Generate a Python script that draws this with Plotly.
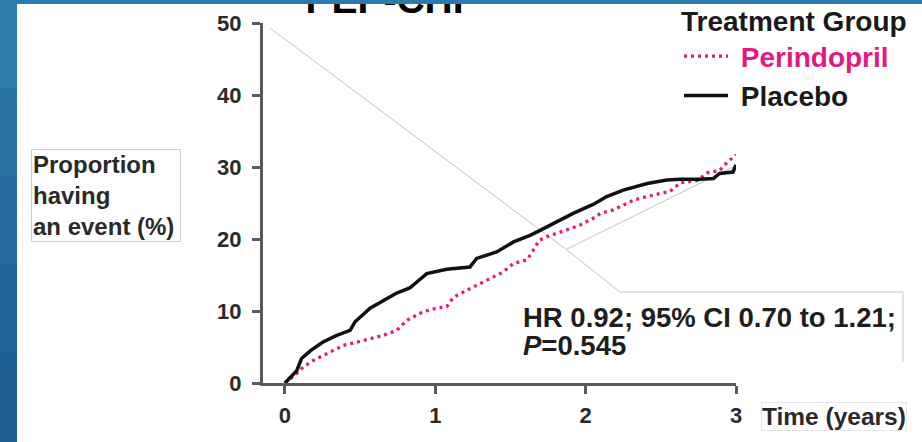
import plotly.graph_objects as go

# ---------------- data ----------------
title_text = "PEP-CHF"
legend_title = "Treatment Group"
series_names = ["Perindopril", "Placebo"]

perindopril_t = [0, 0.04, 0.078, 0.12, 0.186, 0.30, 0.386, 0.52, 0.653, 0.743, 0.81, 0.92,
                 1.01, 1.076, 1.12, 1.23, 1.34, 1.45, 1.52, 1.61, 1.65, 1.69, 1.74, 1.83,
                 1.96, 2.07, 2.10, 2.18, 2.32, 2.45, 2.56, 2.63, 2.74, 2.81, 2.89, 2.94, 3.0]
perindopril_y = [0, 0.6, 1.3, 2.2, 3.1, 4.3, 5.2, 5.9, 6.6, 7.3, 8.7, 9.9,
                 10.4, 10.6, 11.9, 13.1, 14.3, 15.4, 16.6, 17.1, 18.4, 19.8, 20.3, 21.0,
                 21.9, 23.1, 23.6, 24.0, 25.4, 26.1, 26.6, 27.8, 28.1, 29.2, 29.5, 30.6, 31.7]

placebo_t = [0, 0.04, 0.078, 0.11, 0.17, 0.253, 0.344, 0.433, 0.466, 0.566, 0.653, 0.743,
             0.83, 0.876, 0.943, 1.076, 1.12, 1.23, 1.275, 1.408, 1.52, 1.63, 1.697, 1.786,
             1.92, 2.05, 2.14, 2.25, 2.41, 2.54, 2.63, 2.76, 2.85, 2.89, 2.98, 3.0]
placebo_y = [0, 0.8, 1.7, 3.4, 4.5, 5.7, 6.6, 7.3, 8.5, 10.4, 11.5, 12.5,
             13.2, 14.0, 15.2, 15.8, 15.9, 16.1, 17.3, 18.2, 19.6, 20.5, 21.2, 22.2,
             23.6, 24.8, 25.9, 26.8, 27.7, 28.2, 28.3, 28.3, 28.4, 29.1, 29.3, 30.3]

x_ticks = [0, 1, 2, 3]
y_ticks = [0, 10, 20, 30, 40, 50]
y_label = "Proportion<br>having<br>an event (%)"
x_label = "Time (years)"
stat_line1 = "HR 0.92; 95% CI 0.70 to 1.21;"
stat_line2 = "<i>P</i>=0.545"

# ---------------- style / layout (page pixels) ----------------
FONT = "Liberation Sans, Arial, sans-serif"
PINK = "#e3197f"
AXIS = "#5a5a5a"
BLUE_TOP = "#2d79ab"
NBSP = "\u00a0"

W, H = 922, 442
PLOT_L, PLOT_R, PLOT_T, PLOT_B = 263, 736, 23, 383
TITLE_POS = (391, 3)          # centre of the (partly hidden) title, page px


def fx(px):
    return px / W


def fy(py):
    return 1 - py / H


fig = go.Figure()

fig.add_trace(go.Scatter(
    x=perindopril_t, y=perindopril_y, mode="lines",
    name='<span style="color:%s">%s%s</span>' % (PINK, NBSP, series_names[0]),
    line=dict(color=PINK, width=3.3, dash="3px,4px"),
))
fig.add_trace(go.Scatter(
    x=placebo_t, y=placebo_y, mode="lines", name=NBSP + series_names[1],
    line=dict(color="#111111", width=3.5),
))
# title on a full-page overlay so the slide's top bar can cover its upper part
fig.add_trace(go.Scatter(
    x=[TITLE_POS[0]], y=[TITLE_POS[1]], xaxis="x2", yaxis="y2",
    mode="text", text=[title_text],
    textfont=dict(family=FONT, size=39, weight="bold", color="#000000"),
    cliponaxis=False, showlegend=False, hoverinfo="skip",
))

tickfont = dict(family=FONT, size=22, weight="bold", color="#2a2a2a")
axis_common = dict(
    showline=True, linewidth=3, linecolor=AXIS,
    ticks="outside", ticklen=8, tickwidth=2.5, tickcolor=AXIS,
    showgrid=False, zeroline=False, tickfont=tickfont,
    fixedrange=True, automargin=False,
)

shapes = []
# slide decoration: left gradient strip and top bar (drawn above the title)
strip_cols = ["#2e7aac", "#2872a6", "#236aa0", "#1f649a", "#1b5e94"]
n = len(strip_cols)
for i, c in enumerate(strip_cols):
    y_top = i * H / n
    y_bot = (i + 1) * H / n
    shapes.append(dict(type="rect", xref="paper", yref="paper",
                       x0=fx(-5), x1=fx(17), y0=fy(y_bot + 1), y1=fy(y_top - 1),
                       fillcolor=c, line=dict(width=0), layer="above"))
shapes.append(dict(type="rect", xref="paper", yref="paper",
                   x0=fx(-5), x1=fx(W + 5), y0=fy(4), y1=fy(-5),
                   fillcolor=BLUE_TOP, line=dict(width=0), layer="above"))
# faint callout lines from the slide
thin = dict(color="#c4c4c4", width=1)
for (x0, y0, x1, y1) in [(270, 28, 567, 250), (567, 250, 620, 292), (620, 292, 903, 292),
                         (903, 292, 903, 362), (567, 249, 735, 166)]:
    shapes.append(dict(type="line", xref="paper", yref="paper",
                       x0=fx(x0), y0=fy(y0), x1=fx(x1), y1=fy(y1), line=thin, layer="below"))

annotations = [
    dict(text=y_label, xref="paper", yref="paper", x=fx(31), y=fy(195),
         xanchor="left", yanchor="middle", align="left", showarrow=False, width=146,
         font=dict(family=FONT, size=24, weight="bold", color="#2a2a2a"),
         bordercolor="#cfcfcf", borderwidth=1, borderpad=1),
    dict(text=x_label, xref="paper", yref="paper", x=fx(761), y=fy(416),
         xanchor="left", yanchor="middle", showarrow=False,
         font=dict(family=FONT, size=24.5, weight="bold", color="#2a2a2a"),
         bordercolor="#e6e6e6", borderwidth=1, borderpad=0),
    dict(text=stat_line1, xref="paper", yref="paper", x=fx(521), y=fy(317),
         xanchor="left", yanchor="middle", showarrow=False,
         font=dict(family=FONT, size=27.5, weight="bold", color="#1e1e1e")),
    dict(text=stat_line2, xref="paper", yref="paper", x=fx(521), y=fy(345),
         xanchor="left", yanchor="middle", showarrow=False,
         font=dict(family=FONT, size=27.5, weight="bold", color="#1e1e1e")),
]

fig.update_layout(
    width=W, height=H,
    margin=dict(l=0, r=0, t=0, b=0, autoexpand=False),
    paper_bgcolor="white", plot_bgcolor="rgba(0,0,0,0)",
    xaxis=dict(domain=[fx(PLOT_L), fx(PLOT_R)], range=[-0.1463, 3], tickvals=x_ticks,
               ticklabelstandoff=3, **axis_common),
    yaxis=dict(domain=[fy(PLOT_B), fy(PLOT_T)], range=[0, 50], tickvals=y_ticks,
               ticklabelstandoff=6, **axis_common),
    xaxis2=dict(domain=[0, 1], range=[0, W], visible=False, fixedrange=True, anchor="y2"),
    yaxis2=dict(domain=[0, 1], range=[H, 0], visible=False, fixedrange=True, anchor="x2"),
    showlegend=True,
    legend=dict(
        x=fx(679), y=fy(-5), xanchor="left", yanchor="top",
        bgcolor="rgba(0,0,0,0)", borderwidth=0,
        font=dict(family=FONT, size=28, weight="bold", color="#1a1a1a"),
        title=dict(text=legend_title,
                   font=dict(family=FONT, size=28, weight="bold", color="#1a1a1a")),
        itemwidth=44, tracegroupgap=0,
    ),
    shapes=shapes,
    annotations=annotations,
    hovermode=False,
)

fig.write_html("out.html",
               config={"displayModeBar": False},
               post_script="document.body.style.margin='0';document.body.style.overflow='hidden';")
